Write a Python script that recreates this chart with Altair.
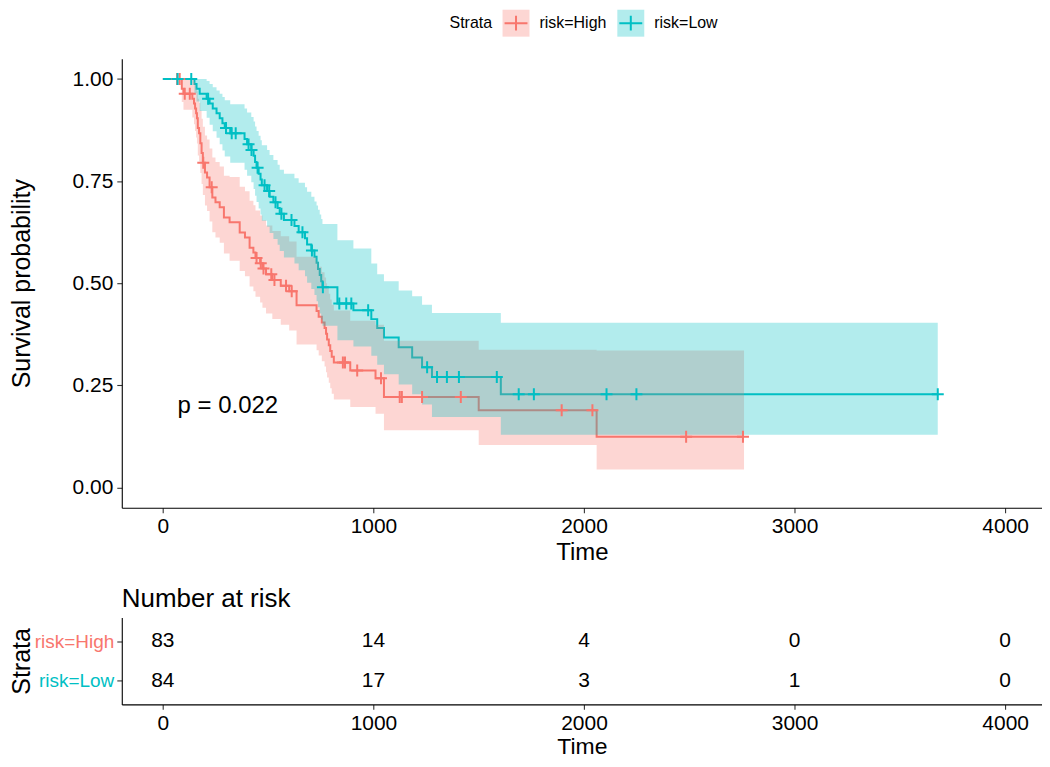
import altair as alt
import pandas as pd

FONT = "Liberation Sans"
strata_names = ["risk=High", "risk=Low"]
strata_colors = ["#F8766D", "#00BFC4"]

# ---- risk=High : KM steps (time, survival, lower CI, upper CI) ----
high_time = [0, 90, 98, 140, 148, 153, 158, 162, 166, 172, 178, 184, 190, 200, 210, 222, 235, 250, 270, 290,
             317, 365, 390, 412, 430, 440, 462, 473, 490, 520, 560, 600, 635, 730, 740, 755, 768, 775, 780, 788,
             795, 802, 812, 890, 1010, 1050, 1500, 2060, 2760]
high_surv = [1.000, 0.976, 0.964, 0.952, 0.940, 0.928, 0.916, 0.904, 0.880, 0.867, 0.843, 0.819, 0.795, 0.771,
             0.759, 0.735, 0.710, 0.698, 0.686, 0.661, 0.649, 0.624, 0.612, 0.587, 0.575, 0.562, 0.549, 0.536,
             0.522, 0.508, 0.494, 0.480, 0.446, 0.432, 0.418, 0.404, 0.390, 0.376, 0.362, 0.348, 0.334, 0.320,
             0.306, 0.286, 0.267, 0.221, 0.189, 0.124, 0.124]
high_lower = [1.000, 0.944, 0.925, 0.906, 0.889, 0.873, 0.857, 0.842, 0.813, 0.798, 0.770, 0.743, 0.716, 0.690,
              0.677, 0.651, 0.625, 0.612, 0.599, 0.573, 0.555, 0.530, 0.517, 0.492, 0.480, 0.467, 0.453, 0.440,
              0.426, 0.412, 0.398, 0.384, 0.350, 0.336, 0.323, 0.309, 0.296, 0.282, 0.269, 0.256, 0.243, 0.229,
              0.215, 0.197, 0.180, 0.140, 0.104, 0.044, 0.044]
high_upper = [1.000, 1.000, 1.000, 0.999, 0.993, 0.986, 0.978, 0.970, 0.952, 0.942, 0.923, 0.903, 0.883, 0.862,
              0.852, 0.830, 0.808, 0.797, 0.786, 0.763, 0.760, 0.736, 0.725, 0.702, 0.691, 0.678, 0.666, 0.654,
              0.641, 0.628, 0.615, 0.602, 0.565, 0.553, 0.540, 0.527, 0.514, 0.500, 0.487, 0.474, 0.460, 0.447,
              0.433, 0.408, 0.398, 0.359, 0.337, 0.335, 0.335]
high_censor = [68, 80, 104, 128, 192, 232, 445, 465, 478, 515, 530, 585, 612, 855, 865, 923, 1036, 1125, 1135,
               1231, 1415, 1894, 2040, 2485, 2755]

# ---- risk=Low ----
low_time = [0, 150, 160, 175, 208, 222, 237, 255, 270, 283, 294, 320, 388, 400, 420, 431, 438, 445, 455, 464,
            470, 495, 507, 525, 545, 555, 575, 625, 645, 675, 685, 705, 720, 730, 737, 745, 752, 758, 829, 905,
            990, 1018, 1050, 1120, 1184, 1231, 1278, 1605, 3680]
low_surv = [1.000, 0.988, 0.976, 0.964, 0.952, 0.940, 0.928, 0.916, 0.904, 0.892, 0.880, 0.867, 0.853, 0.840,
            0.826, 0.812, 0.797, 0.783, 0.768, 0.754, 0.740, 0.726, 0.712, 0.698, 0.684, 0.670, 0.655, 0.640,
            0.625, 0.610, 0.595, 0.580, 0.565, 0.550, 0.535, 0.520, 0.505, 0.490, 0.450, 0.434, 0.412, 0.390,
            0.367, 0.343, 0.318, 0.294, 0.270, 0.228, 0.228]
low_lower = [1.000, 0.965, 0.945, 0.922, 0.905, 0.888, 0.872, 0.856, 0.840, 0.825, 0.810, 0.795, 0.778, 0.763,
             0.747, 0.731, 0.714, 0.699, 0.683, 0.668, 0.653, 0.638, 0.623, 0.608, 0.594, 0.579, 0.563, 0.548,
             0.532, 0.517, 0.501, 0.486, 0.471, 0.456, 0.441, 0.426, 0.411, 0.396, 0.360, 0.345, 0.322, 0.300,
             0.277, 0.252, 0.228, 0.203, 0.172, 0.129, 0.129]
low_upper = [1.000, 1.000, 1.000, 1.000, 0.995, 0.988, 0.980, 0.972, 0.964, 0.956, 0.948, 0.938, 0.928, 0.918,
             0.907, 0.896, 0.884, 0.873, 0.861, 0.850, 0.838, 0.826, 0.814, 0.802, 0.790, 0.778, 0.768, 0.757,
             0.746, 0.735, 0.724, 0.712, 0.700, 0.690, 0.680, 0.668, 0.657, 0.645, 0.605, 0.585, 0.548, 0.522,
             0.505, 0.482, 0.468, 0.447, 0.427, 0.403, 0.403]
low_censor = [70, 135, 215, 300, 327, 346, 407, 421, 450, 483, 505, 535, 563, 611, 663, 708, 760, 838, 871, 895,
              975, 1255, 1302, 1349, 1406, 1586, 1690, 1762, 2107, 2249, 3680]

# ---- number at risk table ----
risk_times = [0, 1000, 2000, 3000, 4000]
risk_high = [83, 14, 4, 0, 0]
risk_low = [84, 17, 3, 1, 0]

pval_label = "p = 0.022"
legend_title = "Strata"

# ---------------- build tables ----------------
def step_value(times, values, t):
    v = values[0]
    for ti, vi in zip(times, values):
        if ti <= t:
            v = vi
        else:
            break
    return v

curve_rows, censor_rows = [], []
for name, tt, ss, lo, hi, cens in [
    ("risk=High", high_time, high_surv, high_lower, high_upper, high_censor),
    ("risk=Low", low_time, low_surv, low_lower, low_upper, low_censor),
]:
    for a, b, c, d in zip(tt, ss, lo, hi):
        curve_rows.append({"strata": name, "time": a, "surv": b, "lower": c, "upper": d})
    for t in cens:
        censor_rows.append({"strata": name, "time": t, "surv": step_value(tt, ss, t)})
curve_df = pd.DataFrame(curve_rows)
censor_df = pd.DataFrame(censor_rows)

risk_rows = []
for name, vals in [("risk=High", risk_high), ("risk=Low", risk_low)]:
    for t, n in zip(risk_times, vals):
        risk_rows.append({"strata": name, "time": t, "n": n})
risk_df = pd.DataFrame(risk_rows)

# ---------------- styling ----------------
W = 922
xscale = alt.Scale(domain=[-195, 4175], nice=False, zero=False)
yscale = alt.Scale(domain=[-0.05, 1.05], nice=False, zero=False)
cscale = alt.Scale(domain=strata_names, range=strata_colors)

axis_style = dict(domainColor="#000000", domainWidth=1.1, tickColor="#333333", tickWidth=1.1, tickSize=5,
                  titleColor="#000000", grid=False, labelFont=FONT, titleFont=FONT, titleFontWeight="normal")

x_axis = alt.Axis(values=risk_times, format="d", title="Time", labelFontSize=21, titleFontSize=24,
                  labelPadding=3, titlePadding=4, labelColor="#000000", **axis_style)
y_axis = alt.Axis(values=[0, 0.25, 0.5, 0.75, 1.0], format=".2f", title="Survival probability",
                  labelFontSize=21, titleFontSize=25, labelPadding=4, minExtent=87, maxExtent=87,
                  titlePadding=0, labelColor="#000000", **axis_style)

xenc = alt.X("time:Q", scale=xscale, axis=x_axis)

lines = alt.Chart(curve_df).mark_line(interpolate="step-after", strokeWidth=2).encode(
    x=xenc,
    y=alt.Y("surv:Q", scale=yscale, axis=y_axis),
    color=alt.Color("strata:N", scale=cscale, legend=None),
)

bands = alt.Chart(curve_df).mark_area(interpolate="step-after", opacity=0.3).encode(
    x=xenc,
    y=alt.Y("lower:Q", scale=yscale, axis=y_axis),
    y2="upper:Q",
    color=alt.Color("strata:N", scale=cscale, legend=None),
)

marks = alt.Chart(censor_df).mark_point(shape="M-1,0H1M0,-1V1", size=144, strokeWidth=2, filled=False,
                                        opacity=1).encode(
    x=xenc,
    y=alt.Y("surv:Q", scale=yscale, axis=y_axis),
    color=alt.Color("strata:N", scale=cscale, legend=None),
)

ptext = alt.Chart(pd.DataFrame({"label": [pval_label]})).mark_text(
    align="left", baseline="middle", fontSize=24, font=FONT, color="#000000"
).encode(
    x=alt.X(datum=70, scale=xscale, axis=x_axis),
    y=alt.Y(datum=0.2, scale=yscale, axis=y_axis),
    text="label:N",
)

main = alt.layer(lines, bands, marks, ptext).properties(width=W, height=450)

# ---------------- legend row (drawn from the strata list) ----------------
lscale = alt.Scale(type="point", domain=strata_names, range=[395, 510], padding=0)
lx = alt.X("strata:N", sort=strata_names, axis=None, scale=lscale)
leg_df = pd.DataFrame({"strata": strata_names})
leg_sq = alt.Chart(leg_df).mark_point(shape="square", size=729, filled=True, opacity=0.3, strokeWidth=0).encode(
    x=lx, color=alt.Color("strata:N", scale=cscale, legend=None))
leg_cross = alt.Chart(leg_df).mark_point(shape="M-0.85,0H0.85M0,-0.55V0.55", size=729, filled=False,
                                         strokeWidth=2, opacity=1).encode(
    x=lx, color=alt.Color("strata:N", scale=cscale, legend=None))
leg_lab = alt.Chart(leg_df).mark_text(align="left", baseline="middle", dx=23.5, fontSize=16, font=FONT,
                                      color="#000000").encode(x=lx, text="strata:N")
leg_title = alt.Chart(pd.DataFrame({"t": [legend_title]})).mark_text(
    align="right", baseline="middle", dx=-24, fontSize=16, font=FONT, color="#000000"
).encode(x=alt.X(datum=strata_names[0], scale=lscale, axis=None), text="t:N")
legend_row = alt.layer(leg_sq, leg_cross, leg_lab, leg_title).properties(width=W, height=29)

# ---------------- risk table ----------------
tx_axis = alt.Axis(values=risk_times, format="d", title="Time", labelFontSize=21, titleFontSize=23,
                   labelPadding=3, titlePadding=2, labelColor="#000000", **axis_style)
ty_axis = alt.Axis(title="Strata", labelFontSize=19, titleFontSize=25, labelPadding=3, minExtent=87,
                   maxExtent=87, titlePadding=0,
                   labelColor={"condition": {"test": "datum.value === 'risk=High'", "value": strata_colors[0]},
                               "value": strata_colors[1]},
                   **axis_style)

table = alt.Chart(risk_df).mark_text(fontSize=21, font=FONT, color="#000000").encode(
    x=alt.X("time:Q", scale=xscale, axis=tx_axis),
    y=alt.Y("strata:N", sort=strata_names, scale=alt.Scale(type="point", padding=0.6), axis=ty_axis),
    text="n:Q",
).properties(
    width=W, height=87,
    title=alt.TitleParams("Number at risk", anchor="start", frame="group", fontSize=26, font=FONT,
                          fontWeight="normal", color="#000000", offset=6),
)

chart = alt.vconcat(legend_row, main, table, spacing=21).resolve_scale(x="independent").properties(
    padding={"left": 2, "top": 0, "right": 0, "bottom": 0}
).configure_view(stroke=None)

chart.save("out.html", embed_options={"renderer": "svg", "actions": False})
